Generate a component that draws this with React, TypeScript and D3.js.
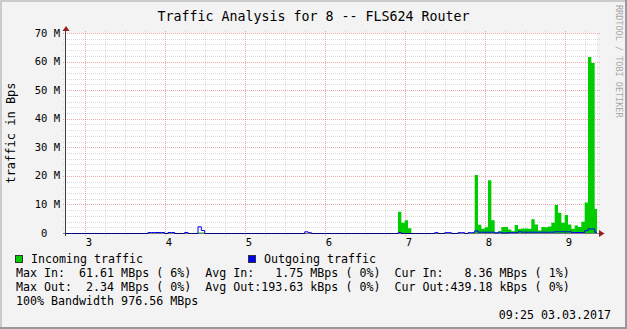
import React, { useEffect } from 'react';
import * as d3 from 'd3';

const W = 627;
const H = 329;

const title = 'Traffic Analysis for 8 -- FLS624 Router';
const yAxisTitle = 'traffic in Bps';
const watermark = 'RRDTOOL / TOBI OETIKER';

// x axis (hours of day)
const hourTicks = [3, 4, 5, 6, 7, 8, 9];
const hourLabels = ['3', '4', '5', '6', '7', '8', '9'];
// y axis (MBps)
const yTicks = [0, 10, 20, 30, 40, 50, 60, 70];
const yTickLabels = ['0  ', '10 M', '20 M', '30 M', '40 M', '50 M', '60 M', '70 M'];

// data: 2.5-minute slots starting at hour 2.746
const startHour = 2.746;
const stepHours = 2.5 / 60;
const slotCount = 160;

const inSlots = [40, 41, 100, 101, 102, 103,
  123, 124, 125, 126, 127, 128, 129, 130, 131, 132, 133, 134, 135, 136, 137, 138, 139, 140, 141,
  142, 143, 144, 145, 146, 147, 148, 149, 150, 151, 152, 153, 154, 155, 156, 157, 158, 159];
const inMBps = [0.15, 0.15, 7.4, 3.6, 4.5, 1.7,
  20.3, 2.9, 1.5, 2.0, 18.5, 4.5, 0.3, 0.6, 2.1, 2.1, 1.2, 0.6, 2.8, 1.4, 1.6, 1.6, 1.5, 4.8, 3.0,
  0.9, 2.1, 2.0, 2.3, 3.6, 9.8, 7.1, 3.6, 6.3, 3.0, 1.5, 2.6, 2.1, 3.9, 10.7, 61.61, 59.5, 8.36];

const outSlots = [25, 26, 27, 28, 29, 31, 32, 36, 40, 41, 72, 73, 100, 111, 114, 115, 118, 119, 121, 122, 123,
  124, 125, 126, 127, 128, 129, 130, 131, 132, 133, 134, 135, 136, 137, 138, 139, 140, 141, 142, 143,
  144, 145, 146, 147, 148, 149, 150, 151, 152, 153, 154, 155, 156, 157, 158, 159];
const outMBps = [0.35, 0.35, 0.35, 0.35, 0.35, 0.35, 0.35, 0.35, 2.34, 1.05, 0.6, 0.3, 0.3, 0.3, 0.3, 0.3, 0.3, 0.3, 0.3, 0.3, 0.9,
  0.45, 0.45, 0.45, 0.45, 0.45, 0.2, 0.45, 0.2, 0.2, 0.3, 0.3, 0.3, 0.6, 0.45, 0.45, 0.45, 0.45, 0.45, 0.45, 0.45,
  0.45, 0.45, 0.45, 0.6, 0.6, 0.6, 0.6, 0.6, 0.35, 0.35, 0.35, 0.35, 1.0, 1.6, 1.6, 0.44];

const legendLines = [
  'Max In:  61.61 MBps ( 6%)  Avg In:   1.75 MBps ( 0%)  Cur In:   8.36 MBps ( 1%)',
  'Max Out:  2.34 MBps ( 0%)  Avg Out:193.63 kBps ( 0%)  Cur Out:439.18 kBps ( 0%)',
];
const bandwidthText = '100% Bandwidth 976.56 MBps';
const timestampText = '09:25 03.03.2017';
const seriesNames = ['Incoming traffic', 'Outgoing traffic'];
const seriesColors = ['#00CC00', '#0000FF'];

const FONT = '"DejaVu Sans Mono", monospace';
const LEG_FS = 11.65;

function fullSeries(slots: number[], vals: number[]) {
  const arr = new Array(slotCount).fill(0);
  slots.forEach((s, i) => { arr[s] = vals[i]; });
  return arr;
}

export default function App() {
  useEffect(() => {
    document.body.style.margin = '0';
  }, []);

  const left = 66, right = 597, top = 33, bottom = 233;
  const x = d3.scaleLinear().domain([2.7625, 9.4]).range([left, right]);
  const y = d3.scaleLinear().domain([0, 70]).range([bottom, top]);

  const inFull = fullSeries(inSlots, inMBps);
  const outFull = fullSeries(outSlots, outMBps);
  const pts = d3.range(slotCount + 1).map((k) => ({ t: startHour + k * stepHours, k: Math.min(k, slotCount - 1) }));

  const area = d3.area<any>()
    .x((d) => x(d.t))
    .y0(bottom)
    .y1((d) => y(inFull[d.k]))
    .curve(d3.curveStepAfter);
  const line = d3.line<any>()
    .x((d) => x(d.t))
    .y((d) => y(outFull[d.k]) + 0.5)
    .curve(d3.curveStepAfter);

  const minorY = d3.range(2, 70, 2).filter((v) => v % 10 !== 0);
  const majorY = yTicks.filter((v) => v > 0);
  const minorX = d3.range(3, 9.3, 0.25).filter((h) => Math.abs(h - Math.round(h)) > 0.01);
  const majorX = hourTicks;
  const cy = (v: number) => Math.round(y(v)) + 0.5;
  const cx = (h: number) => Math.round(x(h)) + 0.5;

  return (
    <svg width={W} height={H} style={{ position: 'absolute', left: 0, top: 0, display: 'block' }}>
      <defs>
        <clipPath id="plotclip">
          <rect x={left} y={top - 2} width={right - left} height={bottom - top + 3} />
        </clipPath>
      </defs>
      <rect x={0} y={0} width={W} height={H} fill="#F3F3F3" />
      {/* shade border */}
      <rect x={0} y={0} width={W} height={2} fill="#CBCBCB" />
      <rect x={0} y={0} width={2} height={H} fill="#CBCBCB" />
      <rect x={0} y={H - 2} width={W} height={2} fill="#999999" />
      <rect x={W - 2} y={0} width={2} height={H} fill="#999999" />

      <rect x={left} y={top} width={right - left} height={bottom - top} fill="#FFFFFF" />

      {/* grid */}
      <g shapeRendering="crispEdges" strokeDasharray="1,1" strokeWidth={1}>
        {minorY.map((v) => (
          <line key={'my' + v} x1={63} x2={600} y1={cy(v)} y2={cy(v)} stroke="rgba(186,186,186,0.5)" />
        ))}
        {minorX.map((h) => (
          <line key={'mx' + h} x1={cx(h)} x2={cx(h)} y1={31} y2={236} stroke="rgba(186,186,186,0.5)" />
        ))}
        {majorY.map((v) => (
          <line key={'My' + v} x1={63} x2={600} y1={cy(v)} y2={cy(v)} stroke="rgba(224,80,80,0.5)" />
        ))}
        {majorX.map((h) => (
          <line key={'Mx' + h} x1={cx(h)} x2={cx(h)} y1={31} y2={236} stroke="rgba(224,80,80,0.5)" />
        ))}
      </g>

      {/* data */}
      <g clipPath="url(#plotclip)">
        <path d={area(pts) || ''} fill={seriesColors[0]} />
        <path d={line(pts) || ''} fill="none" stroke={seriesColors[1]} strokeWidth={1} />
      </g>

      {/* axes */}
      <line x1={63} x2={599} y1={bottom + 0.5} y2={bottom + 0.5} stroke="#000" strokeOpacity={0.5} shapeRendering="crispEdges" />
      <line x1={left - 0.5} x2={left - 0.5} y1={236} y2={29} stroke="#404040" shapeRendering="crispEdges" />
      <polygon points={`${left - 3.5},31 ${left + 3.5},31 ${left},26`} fill="#961E1E" />
      <polygon points={`599,230 599,237 604.5,233.5`} fill="#961E1E" />

      {/* y tick labels */}
      {yTicks.map((v, i) => (
        <text key={'yl' + v} x={60} y={y(v) + 3.5} textAnchor="end" fontFamily={FONT} fontSize={10.5}
          fill="#000" style={{ whiteSpace: 'pre' }}>{yTickLabels[i]}</text>
      ))}
      {/* x tick labels */}
      {hourTicks.map((h, i) => (
        <text key={'xl' + h} x={x(h) + 4} y={246} textAnchor="middle" fontFamily={FONT} fontSize={10.5}
          fill="#000">{hourLabels[i]}</text>
      ))}

      {/* title */}
      <text x={W / 2} y={21} textAnchor="middle" fontFamily={FONT} fontSize={13.3} fill="#000"
        style={{ whiteSpace: 'pre' }}>{title}</text>
      <text transform="translate(15,133) rotate(-90)" textAnchor="middle" fontFamily={FONT} fontSize={12}
        fill="#000">{yAxisTitle}</text>
      <text transform="translate(616,5) rotate(90)" textAnchor="start" fontFamily={FONT} fontSize={8.5}
        fill="#A8A8A8">{watermark}</text>

      {/* legend */}
      <rect x={15.5} y={255.5} width={7} height={7} fill={seriesColors[0]} stroke="#333" strokeWidth={1} />
      <text x={31} y={263} fontFamily={FONT} fontSize={LEG_FS} fill="#000">{seriesNames[0]}</text>
      <rect x={248.5} y={255.5} width={7} height={7} fill={seriesColors[1]} stroke="#333" strokeWidth={1} />
      <text x={264} y={263} fontFamily={FONT} fontSize={LEG_FS} fill="#000">{seriesNames[1]}</text>
      {legendLines.map((txt, r) => (
        <text key={`lg${r}`} x={16} y={277 + r * 14} fontFamily={FONT} fontSize={LEG_FS}
          fill="#000" style={{ whiteSpace: 'pre' }}>{txt}</text>
      ))}
      <text x={16} y={305} fontFamily={FONT} fontSize={LEG_FS} fill="#000" style={{ whiteSpace: 'pre' }}>{bandwidthText}</text>
      <text x={611} y={319} textAnchor="end" fontFamily={FONT} fontSize={LEG_FS} fill="#000">{timestampText}</text>
    </svg>
  );
}
